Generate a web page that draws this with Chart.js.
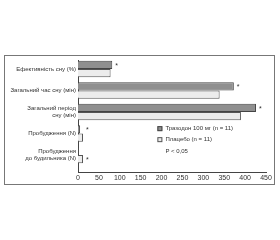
<!DOCTYPE html>
<html>
<head>
<meta charset="utf-8">
<script src="https://cdn.jsdelivr.net/npm/chart.js@4"></script>
<style>
  html, body { margin: 0; padding: 0; background: #fff; }
  #wrap { position: relative; width: 280px; height: 240px; }
</style>
</head>
<body>
<div id="wrap"><canvas id="chart" width="280" height="240"></canvas></div>
<script>
const categories = [
  "Ефективність сну (%)",
  "Загальний час сну (мін)",
  ["Загальний період", "сну (мін)"],
  "Пробудження (N)",
  ["Пробудження", "до будильника (N)"],
];
const trazodone = [82, 373, 426, 5, 1];
const placebo = [78, 339, 390, 12, 12];
const significant = [true, true, true, true, true];
const xTicks = [0, 50, 100, 150, 200, 250, 300, 350, 400, 450];
const seriesNames = ["Тразодон 100 мг (n = 11)", "Плацебо (n = 11)"];
const noteText = "P < 0,05";

const font = "Liberation Sans";
const darkFill = "#8f8f8f", darkLine = "#444";
const lightFill = "#ececec", lightLine = "#555";

// frame, stars and the in-plot legend
const extras = {
  id: "extras",
  beforeDraw(c) {
    const ctx = c.ctx;
    ctx.save();
    ctx.strokeStyle = "#777";
    ctx.lineWidth = 1;
    ctx.strokeRect(4.5, 55.5, 270, 129);
    ctx.restore();
  },
  afterDatasetsDraw(c) {
    const ctx = c.ctx;
    const a = c.getDatasetMeta(0).data;
    const b = c.getDatasetMeta(1).data;
    ctx.save();
    ctx.fillStyle = "#333";
    ctx.font = "7px '" + font + "'";
    ctx.textBaseline = "middle";
    significant.forEach((s, i) => {
      if (!s) return;
      const x = Math.max(a[i].x, b[i].x) + 3;
      const y = trazodone[i] > 2 ? a[i].y : b[i].y;
      ctx.fillText("*", x, y + 1);
    });
    // legend
    const lx = c.scales.x.getPixelForValue(190);
    const top = c.scales.y.getPixelForValue(2.75);
    const fills = [[darkFill, darkLine], [lightFill, lightLine]];
    ctx.font = "6px '" + font + "'";
    seriesNames.forEach((n, i) => {
      const y = top + i * 11;
      ctx.fillStyle = fills[i][0];
      ctx.fillRect(lx, y - 2, 5, 5);
      ctx.strokeStyle = fills[i][1];
      ctx.strokeRect(lx + 0.5, y - 1.5, 4, 4);
      ctx.fillStyle = "#333";
      ctx.fillText(n, lx + 8, y + 0.5);
    });
    ctx.fillText(noteText, lx + 8, top + 23.5);
    ctx.restore();
  },
};

const chart = document.querySelector("#chart").getContext("2d");

new Chart(chart, {
  type: "bar",
  data: {
    datasets: [
      {
        label: seriesNames[0],
        data: trazodone.map((v, i) => ({ x: v, y: i })),
        backgroundColor: darkFill,
        borderColor: darkLine,
        borderWidth: 1,
      },
      {
        label: seriesNames[1],
        data: placebo.map((v, i) => ({ x: v, y: i })),
        backgroundColor: lightFill,
        borderColor: lightLine,
        borderWidth: 1,
      },
    ],
  },
  options: {
    indexAxis: "y",
    responsive: false,
    animation: false,
    categoryPercentage: 0.76,
    barPercentage: 1,
    layout: { padding: { left: 0, top: 60, right: 14, bottom: 54 } },
    plugins: { legend: { display: false }, tooltip: { enabled: false } },
    scales: {
      x: {
        type: "linear",
        min: 0,
        max: 450,
        grid: { display: false, drawTicks: false },
        border: { display: true, color: "#444", width: 1 },
        afterBuildTicks: (s) => { s.ticks = xTicks.map((v) => ({ value: v })); },
        afterFit: (s) => { s.height = 14; },
        ticks: { color: "#333", font: { family: font, size: 7 }, padding: 2, maxRotation: 0 },
      },
      y: {
        type: "linear",
        reverse: true,
        offset: false,
        min: -0.42,
        max: 4.79,
        grid: { display: false, drawTicks: false },
        border: { display: true, color: "#444", width: 1 },
        afterBuildTicks: (s) => { s.ticks = categories.map((_, i) => ({ value: i })); },
        afterFit: (s) => { s.width = 78; },
        ticks: {
          autoSkip: false,
          color: "#333",
          padding: 2,
          font: { family: font, size: 6, lineHeight: 1.15 },
          callback: (v) => categories[v] ?? "",
        },
      },
    },
  },
  plugins: [extras],
});
</script>
</body>
</html>
